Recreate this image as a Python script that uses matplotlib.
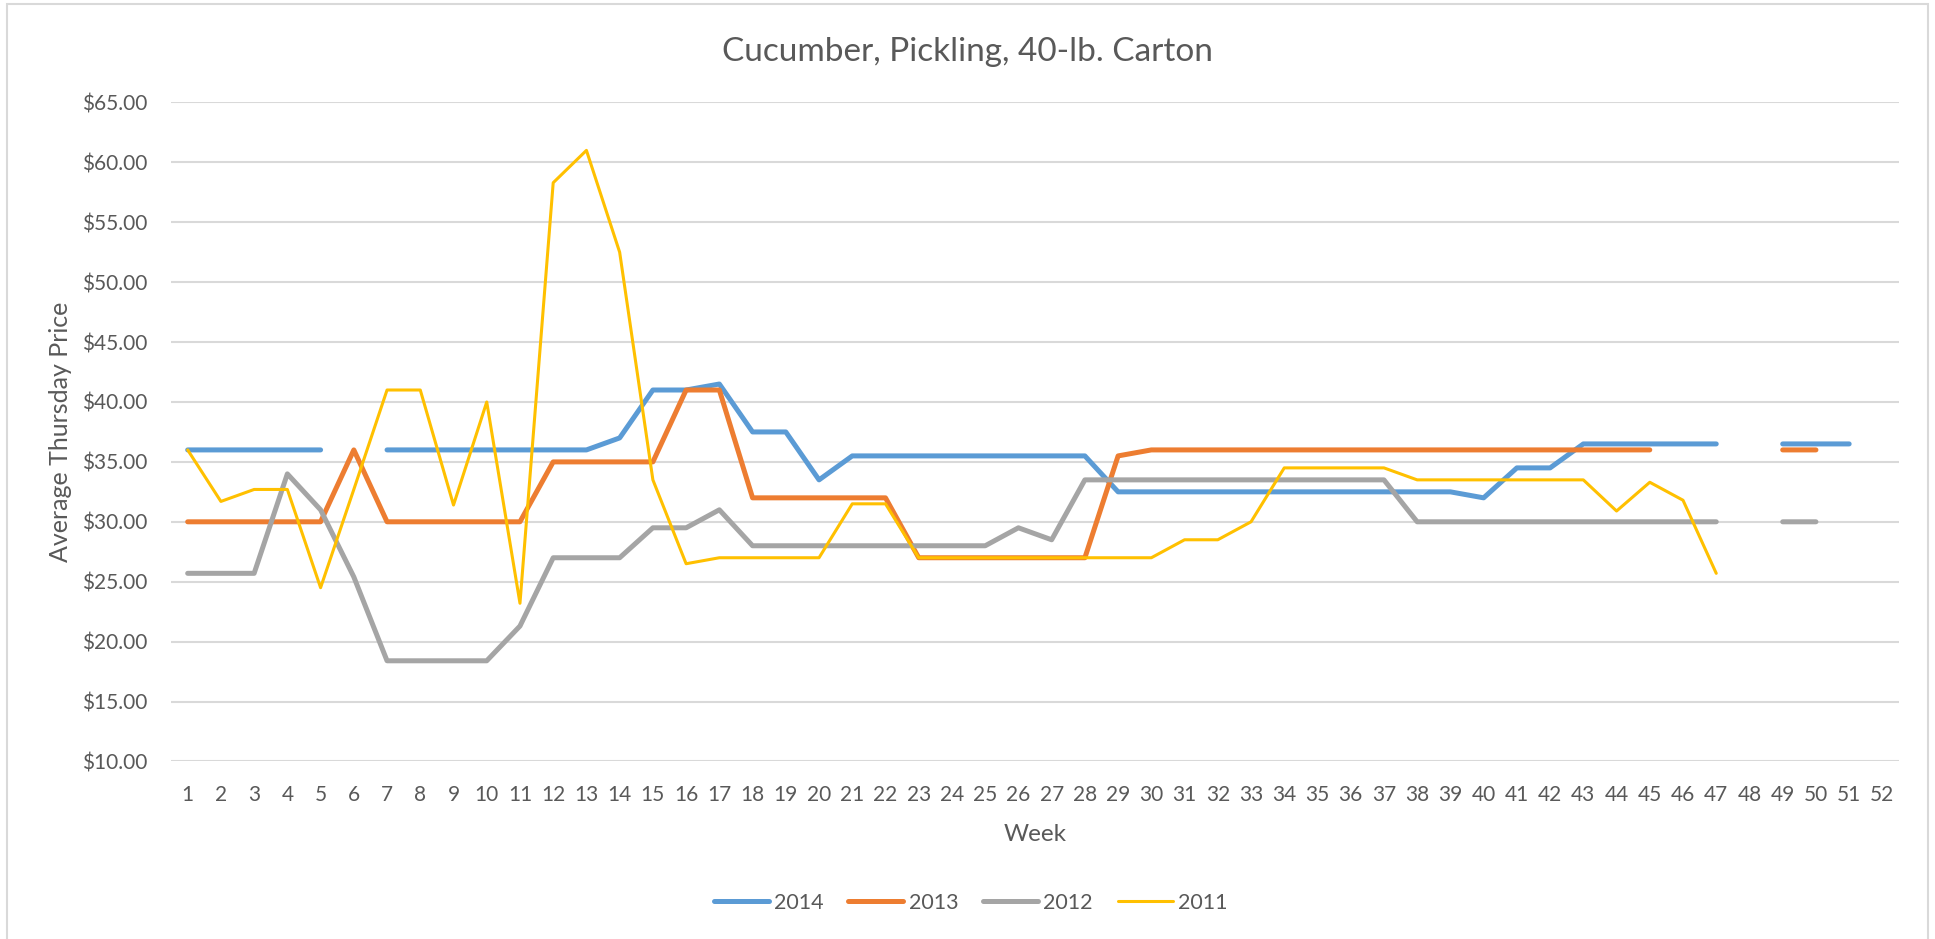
"""
Cucumber, Pickling, 40-lb. Carton : prix moyen du jeudi par semaine,
une courbe par annee (2011-2014), style graphique Excel.
"""
import numpy as np
import matplotlib
matplotlib.use("Agg")
import matplotlib.pyplot as plt
from matplotlib.patches import Rectangle

nan = np.nan

weeks = list(range(1, 53))

price_2014 = [36, 36, 36, 36, 36, nan, 36, 36, 36, 36,
              36, 36, 36, 37, 41, 41, 41.5, 37.5, 37.5, 33.5,
              35.5, 35.5, 35.5, 35.5, 35.5, 35.5, 35.5, 35.5, 32.5, 32.5,
              32.5, 32.5, 32.5, 32.5, 32.5, 32.5, 32.5, 32.5, 32.5, 32,
              34.5, 34.5, 36.5, 36.5, 36.5, 36.5, 36.5, nan, 36.5, 36.5,
              36.5, nan]

price_2013 = [30, 30, 30, 30, 30, 36, 30, 30, 30, 30,
              30, 35, 35, 35, 35, 41, 41, 32, 32, 32,
              32, 32, 27, 27, 27, 27, 27, 27, 35.5, 36,
              36, 36, 36, 36, 36, 36, 36, 36, 36, 36,
              36, 36, 36, 36, 36, nan, nan, nan, 36, 36,
              nan, nan]

price_2012 = [25.7, 25.7, 25.7, 34, 31, 25.4, 18.4, 18.4, 18.4, 18.4,
              21.3, 27, 27, 27, 29.5, 29.5, 31, 28, 28, 28,
              28, 28, 28, 28, 28, 29.5, 28.5, 33.5, 33.5, 33.5,
              33.5, 33.5, 33.5, 33.5, 33.5, 33.5, 33.5, 30, 30, 30,
              30, 30, 30, 30, 30, 30, 30, nan, 30, 30,
              nan, nan]

price_2011 = [36, 31.7, 32.7, 32.7, 24.5, 32.7, 41, 41, 31.4, 40,
              23.2, 58.3, 61, 52.5, 33.5, 26.5, 27, 27, 27, 27,
              31.5, 31.5, 27, 27, 27, 27, 27, 27, 27, 27,
              28.5, 28.5, 30, 34.5, 34.5, 34.5, 34.5, 33.5, 33.5, 33.5,
              33.5, 33.5, 33.5, 30.9, 33.3, 31.8, 25.7, nan, nan, nan,
              nan, nan]

series = [
    ("2014", price_2014, "#5B9BD5", 3.6),
    ("2013", price_2013, "#ED7D31", 3.6),
    ("2012", price_2012, "#A5A5A5", 3.6),
    ("2011", price_2011, "#FFC000", 2.2),
]

TXT = "#595959"
plt.rcParams["font.family"] = ["Lato", "DejaVu Sans"]

fig = plt.figure(figsize=(19.35, 9.39), dpi=100)
ax = fig.add_axes([0.0884, 0.1891, 0.893, 0.7018])

# cadre du graphique
fig.patches.append(Rectangle((7 / 1935, -0.05), 1921 / 1935, 1.0 - 4 / 939 + 0.05,
                             transform=fig.transFigure, fill=False,
                             edgecolor="#D9D9D9", linewidth=1.5))

for label, vals, color, lw in series:
    ax.plot(weeks, vals, color=color, linewidth=lw, label=label,
            solid_capstyle="round", solid_joinstyle="round")

ax.set_xlim(0.5, 52.5)
ax.set_ylim(10, 65)
ax.set_xticks(weeks)
ax.set_xticklabels([str(w) for w in weeks])
ax.set_yticks(np.arange(10, 66, 5))
ax.set_yticklabels([f"${v:.2f}" for v in np.arange(10, 66, 5)])
ax.tick_params(axis="both", length=0, labelsize=15, colors=TXT)
ax.tick_params(axis="x", pad=17)
ax.tick_params(axis="y", pad=17)
ax.grid(axis="y", color="#D9D9D9", linewidth=1.5)
ax.set_axisbelow(True)
for s in ax.spines.values():
    s.set_visible(False)

fig.text(967 / 1935, 1 - 52 / 939, "Cucumber, Pickling, 40-lb. Carton",
         fontsize=24, color=TXT, ha="center", va="center")
ax.set_xlabel("Week", fontsize=17.5, color=TXT, labelpad=14)
ax.set_ylabel("Average Thursday Price", fontsize=18, color=TXT, labelpad=7)

fig.legend(loc="center", bbox_to_anchor=(0.5016, 1 - 903 / 939), ncol=4,
           frameon=False, fontsize=15.5, labelcolor=TXT,
           handlelength=2.55, columnspacing=1.15, handletextpad=0.25)

fig.savefig("out.png", dpi=100)
